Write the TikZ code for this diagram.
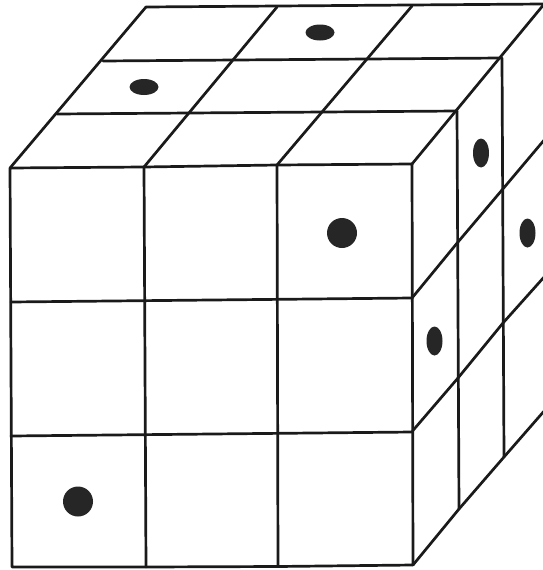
\documentclass[tikz,border=0pt]{standalone}
\definecolor{ink}{HTML}{1A1A1A}
\definecolor{dot}{HTML}{262626}
\tikzset{
  gridline/.style={draw=ink,line width=2.7pt,line cap=round,line join=round},
  spot/.style={fill=dot,draw=none}
}
\begin{document}
\begin{tikzpicture}[x=1pt,y=-1pt]
\useasboundingbox (0,0) rectangle (543,570);
\clip (0,0) rectangle (543,570);
\fill[white] (0,0) rectangle (543,570);
% front face
\draw[gridline] (10,168) -- (144,167) -- (277,165) -- (412,164) -- (413,565) -- (278,566.5) -- (146,567) -- (12,567) -- cycle;
\draw[gridline] (144,167) -- (146,567);
\draw[gridline] (277,165) -- (278,566.5);
\draw[gridline] (11,302) -- (412,298);
\draw[gridline] (11,436) -- (412.5,432);
% top face
\draw[gridline] (10,168) -- (146,7) -- (543,4);
\draw[gridline] (57,114) -- (457,111);
\draw[gridline] (103,61) -- (501,58);
\draw[gridline] (144,167) -- (277,7);
\draw[gridline] (277,165) -- (412,6);
\draw[gridline] (412,164) -- (545,3);
% right face
\draw[gridline] (457,111) -- (459,509);
\draw[gridline] (502,58) -- (504,457);
\draw[gridline] (412,298) -- (458,242) -- (502,190) -- (545,139);
\draw[gridline] (412.5,431) -- (458,378) -- (503,323) -- (545,276);
\draw[gridline] (413,565) -- (459,509) -- (504,457) -- (545,410);
% dots
\fill[spot] (342,233) circle (15);
\fill[spot] (78,501.5) circle (15);
\fill[spot] (144,87) ellipse [x radius=14.5,y radius=8];
\fill[spot] (320,32.5) ellipse [x radius=14.5,y radius=8];
\fill[spot] (481,153) ellipse [x radius=8,y radius=14.5];
\fill[spot] (527.5,233) ellipse [x radius=8,y radius=14.5];
\fill[spot] (434.5,341) ellipse [x radius=8,y radius=14.5];
\end{tikzpicture}
\end{document}
